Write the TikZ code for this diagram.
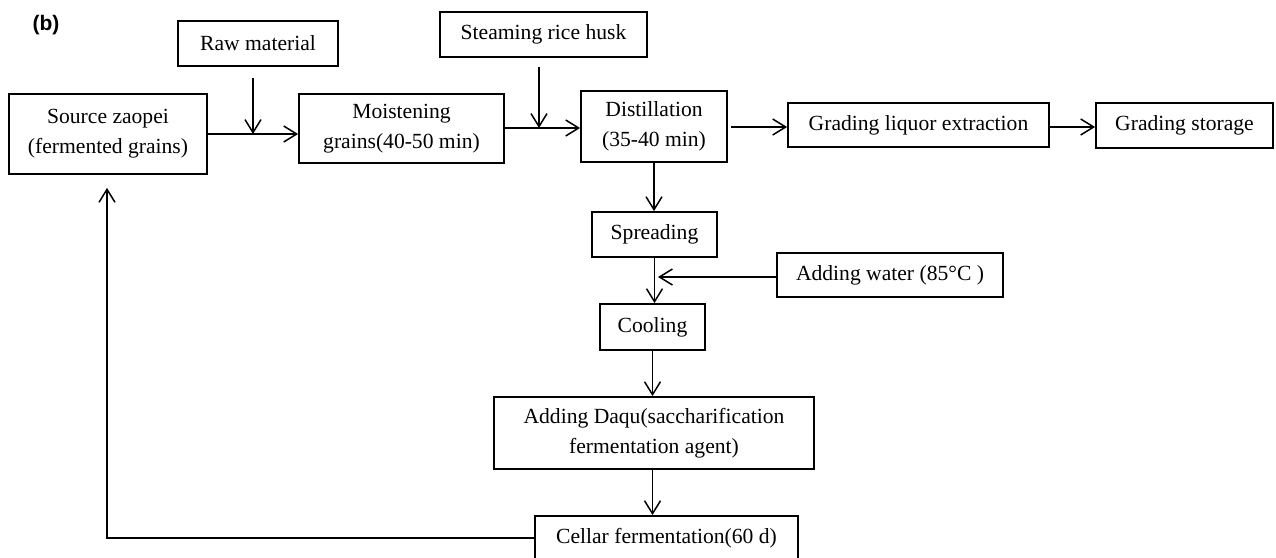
\documentclass[tikz,border=0pt]{standalone}
\usepackage{fontspec}
\setmainfont{Liberation Serif}
\newfontfamily\labfont{Liberation Sans}
\usetikzlibrary{arrows.meta,calc}
\begin{document}
\begin{tikzpicture}[x=1pt,y=-1pt,
  box/.style={draw, line width=1.8pt, inner sep=0pt, align=center,
    font=\fontsize{21.6}{30}\selectfont},
  arr/.style={line width=1.5pt, -{Straight Barb[length=13pt,width=16pt]}},
  ln/.style={line width=1.5pt}]
\useasboundingbox (0,0) rectangle (1276,557);
\node[font=\labfont\bfseries\fontsize{21}{21}\selectfont] (lab) at (46,25) {(b)};
\node[box, minimum width=198pt, minimum height=80pt] (src) at (108,134) {Source zaopei\\(fermented grains)};
\node[box, minimum width=160pt, minimum height=45pt] (raw) at (258,43.5) {Raw material};
\node[box, minimum width=205pt, minimum height=69pt] (moist) at (401.5,128.5) {Moistening\\grains(40-50 min)};
\node[box, minimum width=207pt, minimum height=45pt] (steam) at (543.5,34.5) {Steaming rice husk};
\node[box, minimum width=146pt, minimum height=71pt] (dist) at (654,126.5) {Distillation\\(35-40 min)};
\node[box, minimum width=261pt, minimum height=44pt] (liq) at (918.5,125) {Grading liquor extraction};
\node[box, minimum width=177pt, minimum height=45pt] (sto) at (1184.5,125.5) {Grading storage};
\node[box, minimum width=125pt, minimum height=45pt] (spr) at (654.5,234.5) {Spreading};
\node[box, minimum width=226pt, minimum height=44pt] (water) at (890,275) {Adding water (85°C )};
\node[box, minimum width=105pt, minimum height=46pt] (cool) at (652.5,327) {Cooling};
\node[box, minimum width=320pt, minimum height=72pt] (daqu) at (654,433) {Adding Daqu(saccharification\\fermentation agent)};
\node[box, minimum width=263pt, minimum height=44pt] (cel) at (666.5,538) {Cellar fermentation(60 d)};

\coordinate (j1) at (253,134);
\coordinate (j2) at (539,128);
\coordinate (j3) at (731,127);
\coordinate (wj) at (658,277);
\coordinate (fb) at (107,538);

\draw[arr] (raw.south -| j1) ++(0,11) -- (j1);
\draw[arr] (src.east) -- (moist.west |- src.east);
\draw[arr] (steam.south -| j2) ++(0,9) -- (j2);
\draw[arr] (moist.east |- j2) -- (dist.west |- j2);
\draw[arr] (j3) -- (liq.west |- j3);
\draw[arr] (liq.east |- j3) -- (sto.west |- j3);
\draw[arr] (dist.south) -- (dist.south |- spr.north);
\draw[arr] (spr.south) -- (spr.south |- cool.north);
\draw[arr] (water.west |- wj) -- (wj);
\draw[arr] (cool.south) -- (cool.south |- daqu.north);
\draw[arr] (cool.south |- daqu.south) -- (cool.south |- cel.north);
\draw[arr] (cel.west) -- (fb) -- ($(src.south -| fb)+(0,13)$);
\end{tikzpicture}
\end{document}
